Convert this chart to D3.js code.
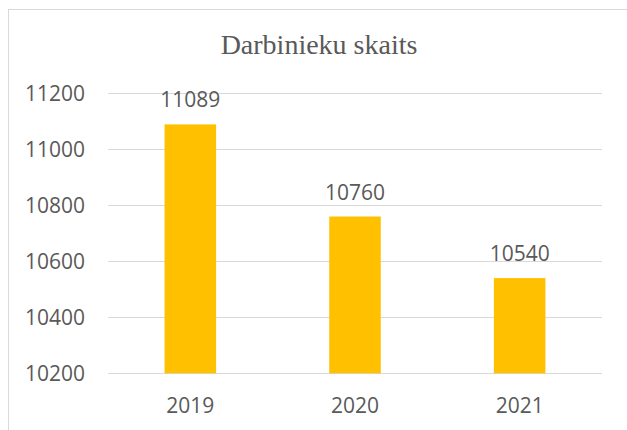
<!DOCTYPE html>
<html><head><meta charset="utf-8">
<script src="https://cdn.jsdelivr.net/npm/d3@7/dist/d3.min.js"></script>
<style>html,body{margin:0;padding:0;background:#fff;}svg{display:block;}</style>
</head><body>
<script>
const title = "Darbinieku skaits";
const categories = ["2019", "2020", "2021"];
const values = [11089, 10760, 10540];
const yTicks = [10200, 10400, 10600, 10800, 11000, 11200];

const W = 627, H = 430;
const svg = d3.select("body").append("svg").attr("width", W).attr("height", H);
const numFont = "'Open Sans', Carlito, sans-serif";
const textColor = "#595959";

// chart frame
svg.append("rect").attr("x", 8.5).attr("y", 9.5).attr("width", 700).attr("height", 500)
  .attr("fill", "#fff").attr("stroke", "#d9d9d9").attr("stroke-width", 1);

const x = d3.scaleBand().domain(categories).range([108, 602]).paddingInner(0.687).paddingOuter(0.687/2);
const y = d3.scaleLinear().domain([10200, 11200]).range([373.3, 93.3]);

// gridlines
svg.append("g").selectAll("line").data(yTicks).join("line")
  .attr("x1", 108).attr("x2", 602)
  .attr("y1", d => Math.round(y(d)) + 0.5).attr("y2", d => Math.round(y(d)) + 0.5)
  .attr("stroke", "#d9d9d9").attr("stroke-width", 1);

// y axis labels
const yAxis = d3.axisLeft(y).tickValues(yTicks).tickSize(0).tickPadding(23).tickFormat(d3.format("d"));
const gy = svg.append("g").attr("transform", "translate(108,0)").call(yAxis);
gy.select(".domain").remove();
gy.selectAll("text").attr("font-family", numFont).attr("font-size", 21).attr("fill", textColor);

// bars
svg.append("g").selectAll("rect").data(values).join("rect")
  .attr("x", (d, i) => x(categories[i]))
  .attr("width", x.bandwidth())
  .attr("y", d => y(d))
  .attr("height", d => y(10200) - y(d))
  .attr("fill", "#ffc000");

// data labels
svg.append("g").selectAll("text").data(values).join("text")
  .attr("x", (d, i) => x(categories[i]) + x.bandwidth() / 2)
  .attr("y", d => y(d) - 17)
  .attr("text-anchor", "middle")
  .attr("font-family", numFont).attr("font-size", 21).attr("fill", textColor)
  .text(d => d);

// x axis labels
const xAxis = d3.axisBottom(x).tickSize(0).tickPadding(0);
const gx = svg.append("g").attr("transform", "translate(0,373)").call(xAxis);
gx.select(".domain").remove();
gx.selectAll("text").attr("font-family", numFont).attr("font-size", 21).attr("fill", textColor)
  .attr("dy", null).attr("y", 39.5);

// title
svg.append("text").attr("x", 319).attr("y", 54).attr("text-anchor", "middle")
  .attr("font-family", "'Liberation Serif', 'Times New Roman', serif").attr("font-size", 28)
  .attr("fill", textColor).text(title);
</script>
</body></html>
